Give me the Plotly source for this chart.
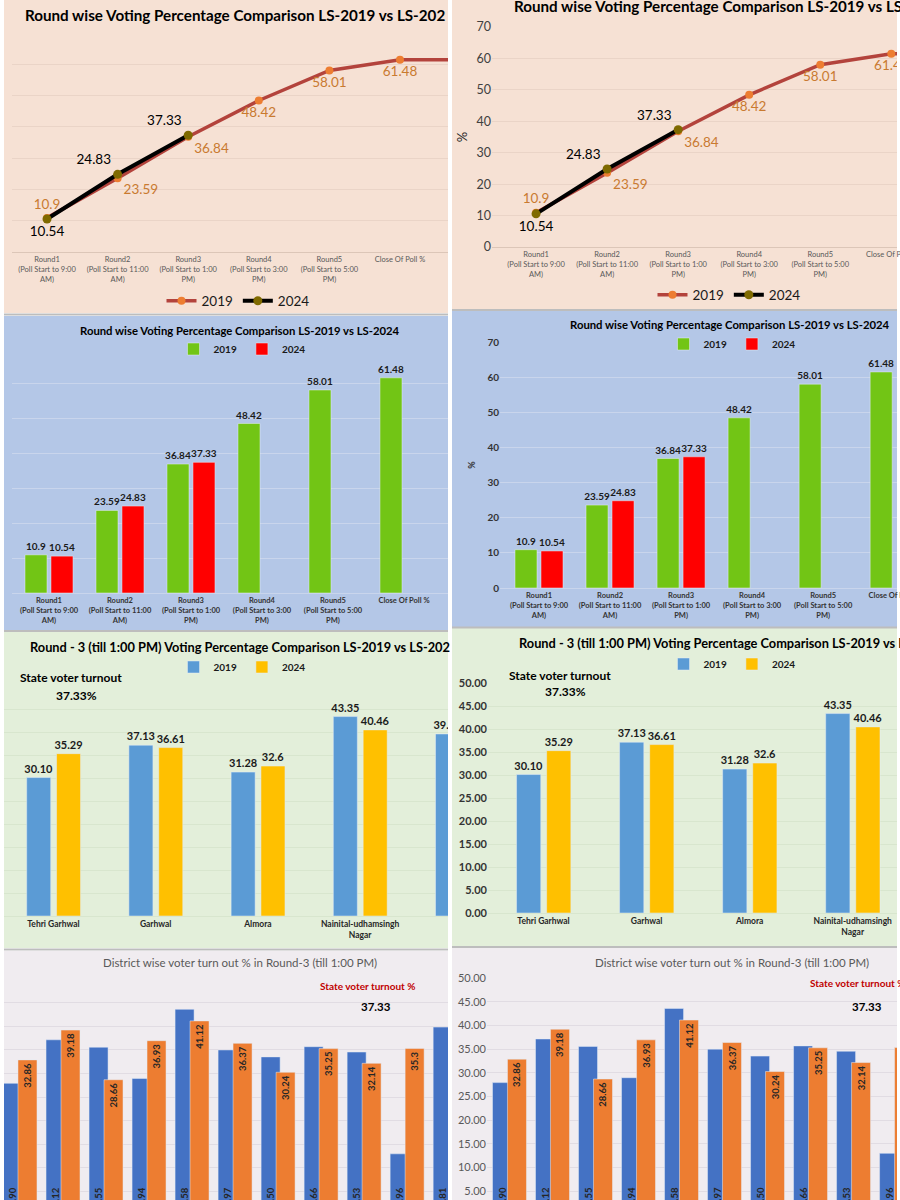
import plotly.graph_objects as go

# ---------------- data ----------------
round_labels = [
    "Round1<br>(Poll Start to 9:00<br>AM)",
    "Round2<br>(Poll Start to 11:00<br>AM)",
    "Round3<br>(Poll Start to 1:00<br>PM)",
    "Round4<br>(Poll Start to 3:00<br>PM)",
    "Round5<br>(Poll Start to 5:00<br>PM)",
    "Close Of Poll %",
]
turnout_2019 = [10.9, 23.59, 36.84, 48.42, 58.01, 61.48]
turnout_2024 = [10.54, 24.83, 37.33, None, None, None]
# the line chart continues past its cropped right edge
line_extra_label = "Final Poll %"
line_extra_2019 = 61.48

pc_names = ["Tehri Garhwal", "Garhwal", "Almora", "Nainital-udhamsingh<br>Nagar", "Haridwar"]
pc_2019 = [30.10, 37.13, 31.28, 43.35, 39.57]
pc_2024 = [35.29, 36.61, 32.6, 40.46, None]
state_turnout_r3 = 37.33

district_names = ["Almora", "Bageshwar", "Chamoli", "Champawat", "Dehradun", "Haridwar",
                  "Nainital", "Pauri Garhwal", "Pithoragarh", "Rudraprayag", "Tehri Garhwal"]
district_2019 = [27.90, 37.12, 35.55, 28.94, 43.58, 34.97, 33.50, 35.66, 34.53, 12.96, 39.81]
district_2024 = [32.86, 39.18, 28.66, 36.93, 41.12, 36.37, 30.24, 35.25, 32.14, 35.3, None]

# ---------------- helpers ----------------
W, H = 900, 1200
FONT = "Lato"


def fx(p):
    return p / W


def fy(p):
    return 1 - p / H


def lab(v, fmt=None):
    if v is None:
        return ""
    return (fmt % v) if fmt else str(v)


fig = go.Figure()
layout = {}
shapes = []
annotations = []

# panel backgrounds
panels = [
    (4, 448, 0, 313, "#f6e1d4"), (452, 897, 0, 309, "#f6e1d4"),
    (4, 448, 316, 630, "#b4c7e7"), (452, 897, 311, 627, "#b4c7e7"),
    (4, 448, 632, 948, "#e3efda"), (452, 897, 628, 946, "#e3efda"),
    (4, 448, 951, 1200, "#f0ecf0"), (452, 897, 948, 1200, "#f0ecf0"),
]
for x0, x1, y0, y1, c in panels:
    shapes.append(dict(type="rect", xref="paper", yref="paper", x0=fx(x0), x1=fx(x1),
                       y0=fy(y1), y1=fy(y0), fillcolor=c, line_width=0, layer="below"))
for x0, x1, yy in [(4, 448, 314.5), (452, 897, 310), (4, 448, 631), (452, 897, 627.5),
                   (4, 448, 949.5), (452, 897, 947)]:
    shapes.append(dict(type="line", xref="paper", yref="paper", x0=fx(x0), x1=fx(x1),
                       y0=fy(yy), y1=fy(yy), line=dict(color="#bdbdbd", width=2), layer="below"))


def add_axes(n, xpx, ypx, xr, yr, grid, yticks=None, xtickfont=None, dtick=10,
             ytitle=None, showx=True, tickformat=None, linecolor=None):
    xk = "xaxis" if n == 1 else f"xaxis{n}"
    yk = "yaxis" if n == 1 else f"yaxis{n}"
    layout[xk] = dict(domain=[fx(xpx[0]), fx(xpx[1])], anchor=f"y{n}" if n > 1 else "y",
                      type="category", range=xr, showgrid=False, zeroline=False,
                      showline=True, linecolor=linecolor or grid, linewidth=1, ticks="",
                      tickangle=0, automargin=False,
                      showticklabels=showx, tickfont=xtickfont or {}, fixedrange=True)
    layout[yk] = dict(domain=[fy(ypx[0]), fy(ypx[1])], anchor=f"x{n}" if n > 1 else "x",
                      range=yr, dtick=dtick, tick0=0, showgrid=True, gridcolor=grid,
                      gridwidth=1, zeroline=False, showline=False, ticks="",
                      automargin=False,
                      showticklabels=yticks is not None, tickfont=yticks or {},
                      fixedrange=True)
    if tickformat:
        layout[yk]["tickformat"] = tickformat
    if ytitle:
        layout[yk]["title"] = ytitle


# ---------- panels 1 & 2 : line charts ----------
line_cats = round_labels + [line_extra_label]
line_2019 = turnout_2019 + [line_extra_2019]
line_2024 = turnout_2024 + [None]
pos19 = ["top center", "bottom right", "bottom right", "bottom center", "bottom center",
         "bottom center", "bottom center"]
pos24 = ["bottom center", "top left", "top left", "top center", "top center", "top center",
         "top center"]
xt_line = dict(family=FONT, size=7.5, color="#595959")
add_axes(1, (12, 448), (252, 33), [-0.496, 5.68], [0, 70], "#ead4c7", xtickfont=xt_line,
         linecolor="#dcc6b8")
add_axes(2, (492, 897), (247, 27), [-0.62, 5.08], [0, 70], "#ead4c7",
         yticks=dict(family=FONT, size=12.5, color="#404040"), xtickfont=xt_line,
         linecolor="#dcc6b8",
         ytitle=dict(text="%", font=dict(family=FONT, size=13, color="#262626"), standoff=5))
for n, leg in [(1, "legend"), (2, "legend2")]:
    xa = "x" if n == 1 else f"x{n}"
    ya = "y" if n == 1 else f"y{n}"
    fig.add_trace(go.Scatter(
        x=line_cats, y=line_2019, name="2019", mode="lines+markers+text",
        line=dict(color="#b3433c", width=3.5), marker=dict(color="#ed7d31", size=8),
        text=[lab(v) if i < len(turnout_2019) else "" for i, v in enumerate(line_2019)],
        textposition=pos19, textfont=dict(family=FONT, size=13.5, color="#c97a30"),
        xaxis=xa, yaxis=ya, legend=leg, cliponaxis=True))
    fig.add_trace(go.Scatter(
        x=line_cats, y=line_2024, name="2024", mode="lines+markers+text",
        line=dict(color="#000000", width=4), marker=dict(color="#7f6a00", size=9),
        text=[lab(v) for v in line_2024], textposition=pos24,
        textfont=dict(family=FONT, size=13.5, color="#000000"),
        xaxis=xa, yaxis=ya, legend=leg, cliponaxis=True))

# ---------- panels 3 & 4 : round bar charts ----------
xt_bar = dict(family=FONT, size=7.5, color="#333333", weight="bold")
add_axes(3, (12, 448), (593, 348), [-0.521, 5.62], [0, 70], "#c9d5ec", xtickfont=xt_bar)
add_axes(4, (500, 897), (588, 342), [-0.549, 5.04], [0, 70], "#c9d5ec", xtickfont=xt_bar,
         yticks=dict(family=FONT, size=10, color="#333333", weight="bold"),
         ytitle=dict(text="%", font=dict(family=FONT, size=9, color="#333333", weight="bold"),
                     standoff=10))
bar_txt = dict(family=FONT, size=10, color="#1a1a1a", weight="bold")
for n, leg in [(3, "legend3"), (4, "legend4")]:
    fig.add_trace(go.Bar(x=round_labels, y=turnout_2019, name="2019", marker_color="#72c515",
                         width=0.31, offset=-0.338, text=[lab(v) for v in turnout_2019],
                         textposition="outside", textangle=0, constraintext="none",
                         textfont=bar_txt, cliponaxis=True,
                         xaxis=f"x{n}", yaxis=f"y{n}", legend=leg))
    fig.add_trace(go.Bar(x=round_labels, y=turnout_2024, name="2024", marker_color="#ff0000",
                         width=0.31, offset=0.028, text=[lab(v) for v in turnout_2024],
                         textposition="outside", textangle=0, constraintext="none",
                         textfont=bar_txt, cliponaxis=True,
                         xaxis=f"x{n}", yaxis=f"y{n}", legend=leg))

# ---------- panels 5 & 6 : constituency bars ----------
xt_pc = dict(family=FONT, size=8.5, color="#262626", weight="bold")
add_axes(5, (4, 448), (916, 686), [-0.484, 3.86], [0, 50], "#d8e6ce", xtickfont=xt_pc, dtick=5)
add_axes(6, (488, 897), (913, 683), [-0.539, 3.43], [0, 50], "#d8e6ce", xtickfont=xt_pc,
         dtick=5, tickformat=".2f",
         yticks=dict(family=FONT, size=11, color="#333333", weight="bold"))
pc_txt = dict(family=FONT, size=11, color="#1a1a1a", weight="bold")
for n, leg in [(5, "legend5"), (6, "legend6")]:
    fig.add_trace(go.Bar(x=pc_names, y=pc_2019, name="2019", marker_color="#5b9bd5",
                         width=0.235, offset=-0.262, text=[lab(v, "%.2f") for v in pc_2019],
                         textposition="outside", textangle=0, constraintext="none",
                         textfont=pc_txt, cliponaxis=True,
                         xaxis=f"x{n}", yaxis=f"y{n}", legend=leg))
    fig.add_trace(go.Bar(x=pc_names, y=pc_2024, name="2024", marker_color="#ffc000",
                         width=0.235, offset=0.03, text=[lab(v) for v in pc_2024],
                         textposition="outside", textangle=0, constraintext="none",
                         textfont=pc_txt, cliponaxis=True,
                         xaxis=f"x{n}", yaxis=f"y{n}", legend=leg))

# ---------- panels 7 & 8 : district bars ----------
add_axes(7, (4, 448), (1200, 979), [-0.372, 9.95], [3.18, 50], "#e1dce3", showx=False, dtick=5)
add_axes(8, (487, 897), (1200, 978), [-0.523, 9.01], [3.1, 50], "#e1dce3", showx=False,
         dtick=5, tickformat=".2f", yticks=dict(family=FONT, size=11, color="#595959"))
d_txt = dict(family=FONT, size=9.5, color="#262626", weight="bold")
for n in (7, 8):
    fig.add_trace(go.Bar(x=district_names, y=district_2019, name="2019", marker_color="#4472c4",
                         width=0.442, offset=-0.395, text=[lab(v, "%.2f") for v in district_2019],
                         textposition="inside", insidetextanchor="start", textangle=-90,
                         constraintext="none",
                         textfont=d_txt, cliponaxis=True, showlegend=False,
                         xaxis=f"x{n}", yaxis=f"y{n}"))
    fig.add_trace(go.Bar(x=district_names, y=district_2024, name="2024", marker_color="#ed7d31",
                         width=0.442, offset=-0.047, text=[lab(v) for v in district_2024],
                         textposition="inside", insidetextanchor="end", textangle=-90,
                         constraintext="none",
                         textfont=d_txt, cliponaxis=True, showlegend=False,
                         xaxis=f"x{n}", yaxis=f"y{n}"))


# ---------- titles & notes ----------
def note(text, x, y, size, color="#000000", bold=True, anchor="left"):
    annotations.append(dict(text=text, x=fx(x), y=fy(y), xref="paper", yref="paper",
                            xanchor=anchor, yanchor="middle", showarrow=False,
                            font=dict(family=FONT, size=size, color=color,
                                      weight="bold" if bold else "normal")))


t_round = "Round wise Voting Percentage Comparison LS-2019 vs LS-2024"
t_r3 = "Round - 3 (till 1:00 PM) Voting Percentage Comparison LS-2019 vs LS-2024"
t_dist = "District wise voter turn out % in Round-3 (till 1:00 PM)"
note(t_round[:-1], 23, 15, 15.2)
note(t_round, 512, 6, 15.2)
note(t_round, 240, 330, 11.3, anchor="center")
note(t_round, 568, 325, 11.3)
note(t_r3[:-1], 28, 647, 12.8)
note(t_r3, 517, 643, 12.8)
note(t_dist, 240, 962, 11.5, color="#595959", bold=False, anchor="center")
note(t_dist, 593, 962, 11.5, color="#595959", bold=False)

note("State voter turnout", 18, 678, 12)
note(f"{state_turnout_r3:.2f}%", 76, 695, 12, anchor="center")
note("State voter turnout", 507, 675, 12)
note(f"{state_turnout_r3:.2f}%", 565, 691, 12, anchor="center")
note("State voter turnout %", 318, 986, 10, color="#c00000")
note(f"{state_turnout_r3:.2f}", 376, 1007, 11.5, anchor="center")
note("State voter turnout %", 808, 983, 10, color="#c00000")
note(f"{state_turnout_r3:.2f}", 867, 1006, 11.5, anchor="center")


# ---------- legends ----------
def legend(x, y, size, bold):
    return dict(x=fx(x), y=fy(y), xanchor="center", yanchor="middle", orientation="h",
                bgcolor="rgba(0,0,0,0)", itemwidth=30, tracegroupgap=0,
                font=dict(family=FONT, size=size, color="#1a1a1a",
                          weight="bold" if bold else "normal"))


layout["legend"] = legend(238, 301, 13.5, False)
layout["legend2"] = legend(729, 295, 13.5, False)
layout["legend3"] = legend(242, 349, 10, True)
layout["legend4"] = legend(732, 344, 10, True)
layout["legend5"] = legend(242, 667, 10, True)
layout["legend6"] = legend(732, 664, 10, True)

fig.update_layout(
    width=W, height=H, autosize=False,
    margin=dict(l=0, r=0, t=0, b=0, pad=0, autoexpand=False),
    paper_bgcolor="#ffffff", plot_bgcolor="rgba(0,0,0,0)",
    barmode="overlay", showlegend=True,
    font=dict(family=FONT),
    shapes=shapes, annotations=annotations,
    **layout,
)
fig.write_html("out.html", config={"displayModeBar": False},
               post_script="document.body.style.margin='0';document.body.style.overflow='hidden';")
